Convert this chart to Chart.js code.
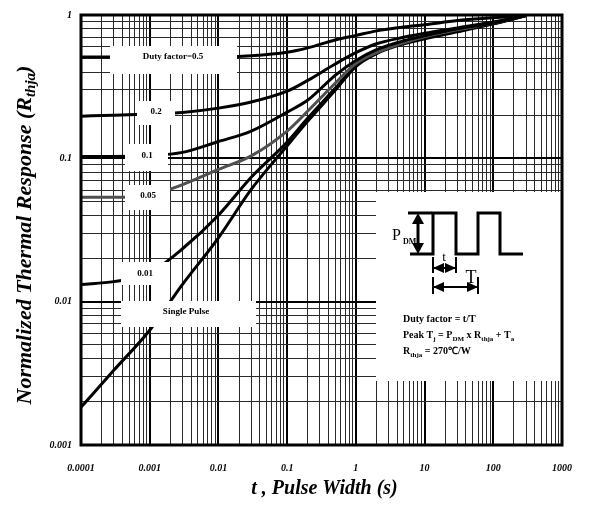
<!DOCTYPE html>
<html>
<head>
<meta charset="utf-8">
<script src="https://cdn.jsdelivr.net/npm/chart.js@4.4.1/dist/chart.umd.min.js"></script>
<style>
  html, body { margin: 0; padding: 0; background: #fff; }
  #chart { display: block; }
</style>
</head>
<body>
<canvas id="chart" width="589" height="513"></canvas>
<script>
const pulseTimes = [0.0001, 0.0003, 0.001, 0.003, 0.01, 0.03, 0.1, 0.2, 0.5, 1, 2, 5, 10, 30, 100, 300];

const duty05 = [0.51, 0.51, 0.51, 0.51, 0.51, 0.52, 0.55, 0.59, 0.67, 0.72, 0.775, 0.825, 0.855, 0.915, 0.955, 0.99];
const duty02 = [0.197, 0.2, 0.204, 0.209, 0.224, 0.247, 0.294, 0.35, 0.455, 0.546, 0.63, 0.699, 0.745, 0.813, 0.895, 0.99];
const duty01 = [0.103, 0.103, 0.1045, 0.11, 0.131, 0.155, 0.21, 0.255, 0.379, 0.481, 0.573, 0.661, 0.716, 0.8, 0.88, 0.99];
const duty005 = [0.0535, 0.0535, 0.0553, 0.0656, 0.0836, 0.104, 0.155, 0.214, 0.334, 0.459, 0.546, 0.64, 0.705, 0.788, 0.88, 0.99];
const duty001 = [0.0132, 0.0138, 0.0159, 0.0234, 0.0401, 0.0738, 0.13, 0.191, 0.308, 0.444, 0.546, 0.64, 0.694, 0.775, 0.867, 0.99];
const singlePulse = [0.00183, 0.00332, 0.00632, 0.0132, 0.0279, 0.0607, 0.1225, 0.182, 0.298, 0.437, 0.538, 0.63, 0.683, 0.763, 0.867, 0.99];

const seriesNames = ['Duty factor=0.5', '0.2', '0.1', '0.05', '0.01', 'Single Pulse'];
const seriesValues = [duty05, duty02, duty01, duty005, duty001, singlePulse];

const xTickLabels = ['0.0001', '0.001', '0.01', '0.1', '1', '10', '100', '1000'];
const yTickLabels = ['0.001', '0.01', '0.1', '1'];

const serif = '"Liberation Serif", "Times New Roman", serif';

// white boxes behind the curve names, offsets from the plot's top-left corner
const labelBoxes = [
    { x: 29, y: 31, w: 127, h: 28, tx: 92, ty: 42 },
    { x: 56, y: 86, w: 38, h: 24, tx: 75, ty: 97 },
    { x: 44, y: 129, w: 43, h: 27, tx: 66, ty: 141 },
    { x: 44, y: 170, w: 45, h: 25, tx: 67, ty: 181 },
    { x: 40, y: 247, w: 49, h: 23, tx: 64, ty: 259 },
    { x: 40, y: 286, w: 135, h: 26, tx: 105, ty: 297 }
];
const inset = { x: 295, y: 177, w: 187, h: 189 };

function logTicks(labels) {
    const ticks = [];
    labels.forEach((l, i) => {
        const v = parseFloat(l);
        ticks.push({ value: v, major: true });
        if (i < labels.length - 1) {
            for (let m = 2; m <= 9; m++) ticks.push({ value: v * m, major: false });
        }
    });
    return ticks;
}

function labelFor(labels, value) {
    const s = labels.find(l => parseFloat(l) === value);
    return s || '';
}

// draws text pieces, pieces flagged true are subscripts
function drawRich(ctx, parts, x, y, size, align, style) {
    const pre = (style || 'bold') + ' ';
    const main = pre + size + 'px ' + serif;
    const sub = pre + Math.round(size * 0.7) + 'px ' + serif;
    let total = 0;
    parts.forEach(p => {
        ctx.font = p[1] ? sub : main;
        total += ctx.measureText(p[0]).width;
    });
    let cx = align === 'center' ? x - total / 2 : x;
    ctx.textAlign = 'left';
    parts.forEach(p => {
        ctx.font = p[1] ? sub : main;
        ctx.fillText(p[0], cx, p[1] ? y + size * 0.3 : y);
        cx += ctx.measureText(p[0]).width;
    });
}

function arrowHead(ctx, x, y, dx, dy, len, half) {
    ctx.beginPath();
    ctx.moveTo(x, y);
    ctx.lineTo(x - dx * len - dy * half, y - dy * len + dx * half);
    ctx.lineTo(x - dx * len + dy * half, y - dy * len - dx * half);
    ctx.closePath();
    ctx.fill();
}

function drawInset(ctx, ox, oy) {
    ctx.fillStyle = '#fff';
    ctx.fillRect(ox, oy, inset.w, inset.h);

    ctx.strokeStyle = '#000';
    ctx.fillStyle = '#000';
    ctx.lineWidth = 3;
    ctx.lineJoin = 'miter';

    // pulse train
    const wave = [[34, 62], [57, 62], [57, 21], [80, 21], [80, 62], [102, 62], [102, 21], [124, 21], [124, 62], [147, 62]];
    ctx.beginPath();
    wave.forEach((p, i) => {
        if (i === 0) ctx.moveTo(ox + p[0], oy + p[1]);
        else ctx.lineTo(ox + p[0], oy + p[1]);
    });
    ctx.stroke();

    // P_DM height arrow
    ctx.beginPath();
    ctx.moveTo(ox + 32, oy + 21);
    ctx.lineTo(ox + 56, oy + 21);
    ctx.moveTo(ox + 42, oy + 28);
    ctx.lineTo(ox + 42, oy + 55);
    ctx.stroke();
    arrowHead(ctx, ox + 42, oy + 21, 0, -1, 11, 6);
    arrowHead(ctx, ox + 42, oy + 62, 0, 1, 11, 6);

    ctx.font = '16px ' + serif;
    ctx.textAlign = 'left';
    ctx.textBaseline = 'alphabetic';
    ctx.fillText('P', ox + 16, oy + 48);
    ctx.font = 'bold 8px ' + serif;
    ctx.fillText('DM', ox + 27, oy + 52);

    // t and T spans
    ctx.lineWidth = 2;
    ctx.beginPath();
    ctx.moveTo(ox + 57, oy + 65); ctx.lineTo(ox + 57, oy + 81);
    ctx.moveTo(ox + 80, oy + 65); ctx.lineTo(ox + 80, oy + 81);
    ctx.moveTo(ox + 57, oy + 85); ctx.lineTo(ox + 57, oy + 102);
    ctx.moveTo(ox + 102, oy + 85); ctx.lineTo(ox + 102, oy + 102);
    ctx.moveTo(ox + 57, oy + 76); ctx.lineTo(ox + 80, oy + 76);
    ctx.moveTo(ox + 57, oy + 95); ctx.lineTo(ox + 102, oy + 95);
    ctx.stroke();
    arrowHead(ctx, ox + 57, oy + 76, -1, 0, 11, 5);
    arrowHead(ctx, ox + 80, oy + 76, 1, 0, 11, 5);
    arrowHead(ctx, ox + 57, oy + 95, -1, 0, 11, 5);
    arrowHead(ctx, ox + 102, oy + 95, 1, 0, 11, 5);

    ctx.font = '13px ' + serif;
    ctx.textAlign = 'center';
    ctx.fillText('t', ox + 68, oy + 69);
    ctx.font = '18px ' + serif;
    ctx.fillText('T', ox + 95, oy + 91);

    drawRich(ctx, [['Duty factor = t/T', false]], ox + 27, oy + 130, 10, 'left');
    drawRich(ctx, [['Peak T', false], ['j', true], [' = P', false], ['DM', true], [' x R', false], ['thja', true], [' + T', false], ['a', true]], ox + 27, oy + 146, 10, 'left');
    drawRich(ctx, [['R', false], ['thja', true], [' = 270\u2103/W', false]], ox + 27, oy + 162, 10, 'left');
}

const overlayPlugin = {
    id: 'overlay',
    afterDatasetsDraw(chart) {
        const { ctx, chartArea: ca } = chart;
        ctx.save();

        labelBoxes.forEach((b, i) => {
            ctx.fillStyle = '#fff';
            ctx.fillRect(ca.left + b.x, ca.top + b.y, b.w, b.h);
            ctx.fillStyle = '#000';
            ctx.font = 'bold 9px ' + serif;
            ctx.textAlign = 'center';
            ctx.textBaseline = 'middle';
            ctx.fillText(chart.data.datasets[i].label, ca.left + b.tx, ca.top + b.ty);
        });

        ctx.textBaseline = 'alphabetic';
        drawInset(ctx, ca.left + inset.x, ca.top + inset.y);

        // heavy frame
        ctx.strokeStyle = '#000';
        ctx.lineWidth = 3;
        ctx.strokeRect(ca.left, ca.top, ca.right - ca.left, ca.bottom - ca.top);
        ctx.restore();
    },
    afterDraw(chart) {
        const { ctx, chartArea: ca } = chart;
        ctx.save();
        ctx.fillStyle = '#000';

        ctx.font = 'italic bold 20px ' + serif;
        ctx.textAlign = 'center';
        ctx.textBaseline = 'middle';
        ctx.fillText('t , Pulse Width (s)', (ca.left + ca.right) / 2 + 3, ca.bottom + 44);

        ctx.translate(25, ca.top + 220);
        ctx.rotate(-Math.PI / 2);
        ctx.textBaseline = 'middle';
        drawRich(ctx, [['Normalized Thermal Response (R', false], ['thja', true], [')', false]], 0, 0, 22, 'center', 'italic bold');
        ctx.restore();
    }
};

const gridStyle = {
    color: c => (c.tick && c.tick.major ? '#000' : '#2a2a2a'),
    lineWidth: c => (c.tick && c.tick.major ? 2 : 1),
    drawTicks: false
};

const tickFont = { family: serif, size: 10, style: 'italic', weight: 'bold' };

new Chart(document.getElementById('chart'), {
    type: 'scatter',
    data: {
        datasets: seriesValues.map((vals, i) => ({
            label: seriesNames[i],
            data: pulseTimes.map((t, j) => ({ x: t, y: vals[j] })),
            showLine: true,
            borderColor: i === 3 ? '#505050' : '#000',
            borderWidth: 3,
            pointRadius: 0,
            cubicInterpolationMode: 'monotone',
            fill: false
        }))
    },
    options: {
        responsive: false,
        animation: false,
        devicePixelRatio: 1,
        layout: { padding: { top: 11, right: 16, left: 0, bottom: 0 } },
        plugins: {
            legend: { display: false },
            tooltip: { enabled: false }
        },
        scales: {
            x: {
                type: 'logarithmic',
                min: 0.0001,
                max: 1000,
                afterFit: s => { s.height = 68; },
                afterBuildTicks: s => { s.ticks = logTicks(xTickLabels); },
                grid: gridStyle,
                border: { display: false },
                ticks: {
                    autoSkip: false,
                    maxRotation: 0,
                    padding: 17,
                    color: '#000',
                    font: tickFont,
                    callback: v => labelFor(xTickLabels, v)
                }
            },
            y: {
                type: 'logarithmic',
                min: 0.001,
                max: 1,
                afterFit: s => { s.width = 81; },
                afterBuildTicks: s => { s.ticks = logTicks(yTickLabels); },
                grid: gridStyle,
                border: { display: false },
                ticks: {
                    autoSkip: false,
                    padding: 9,
                    color: '#000',
                    font: tickFont,
                    callback: v => labelFor(yTickLabels, v)
                }
            }
        }
    },
    plugins: [overlayPlugin]
});
</script>
</body>
</html>
